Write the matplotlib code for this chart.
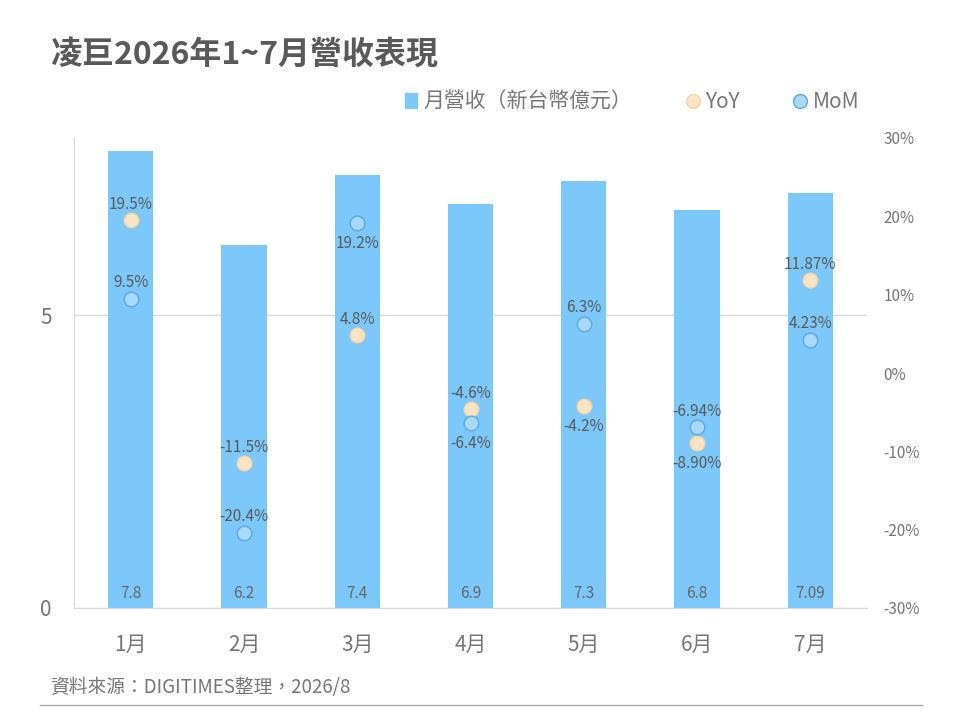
import matplotlib
matplotlib.use('Agg')
import matplotlib.pyplot as plt
from matplotlib.lines import Line2D
from matplotlib.patches import Patch
import numpy as np

plt.rcParams['font.family'] = ['Noto Sans CJK TC', 'DejaVu Sans']

months = ['1月', '2月', '3月', '4月', '5月', '6月', '7月']
revenue = [7.8, 6.2, 7.4, 6.9, 7.3, 6.8, 7.09]
revenue_labels = ['7.8', '6.2', '7.4', '6.9', '7.3', '6.8', '7.09']
yoy = [19.5, -11.5, 4.8, -4.6, -4.2, -8.90, 11.87]
yoy_labels = ['19.5%', '-11.5%', '4.8%', '-4.6%', '-4.2%', '-8.90%', '11.87%']
mom = [9.5, -20.4, 19.2, -6.4, 6.3, -6.94, 4.23]
mom_labels = ['9.5%', '-20.4%', '19.2%', '-6.4%', '6.3%', '-6.94%', '4.23%']
# label above (1) or below (-1) the point
yoy_pos = [1, 1, 1, 1, -1, -1, 1]
mom_pos = [1, 1, -1, -1, 1, 1, 1]

bar_color = '#7CC8FA'
text_gray = '#595959'
tick_gray = '#767676'

fig = plt.figure(figsize=(9.6, 7.2), dpi=100)
ax = fig.add_axes([74/960, 1-608/720, (867-74)/960, (608-138)/720])
ax2 = ax.twinx()

x = np.arange(len(months))
bars = ax.bar(x, revenue, 0.4, color=bar_color, zorder=2)
ax.set_ylim(0, 8.03)
ax.set_xlim(-0.5, len(months)-0.5)
ax.set_yticks([0, 5])
ax.set_yticklabels(['0', '5'])
ax.yaxis.grid(True, color='#D9D9D9', linewidth=1, zorder=0)
ax.set_axisbelow(True)
for s in ['top', 'right']:
    ax.spines[s].set_visible(False)
ax.spines['left'].set_color('#D9D9D9')
ax.spines['bottom'].set_color('#D9D9D9')
ax.tick_params(axis='y', length=0, labelsize=15, colors=tick_gray, pad=16)
ax.set_xticks(x)
ax.set_xticklabels(months)
ax.tick_params(axis='x', length=0, labelsize=15, colors=tick_gray, pad=19)

for i, b in enumerate(bars):
    ax.text(b.get_x()+b.get_width()/2, 0.1, revenue_labels[i], ha='center',
            va='bottom', fontsize=11, color='#666666', zorder=3)

ax2.set_ylim(-30, 30)
ax2.set_yticks([30, 20, 10, 0, -10, -20, -30])
ax2.set_yticklabels([f'{v}%' for v in [30, 20, 10, 0, -10, -20, -30]])
ax2.tick_params(axis='y', length=0, labelsize=11, colors=tick_gray, pad=12)
for s in ax2.spines.values():
    s.set_visible(False)

ax2.scatter(x, yoy, s=110, color='#FCE3C2', edgecolors='#F3D5AA', linewidths=1, zorder=4)
ax2.scatter(x, mom, s=110, color='#A9D8F8', edgecolors='#5AA8E8', linewidths=1, zorder=4)

for i in range(len(months)):
    for vals, labs, pos in [(yoy, yoy_labels, yoy_pos), (mom, mom_labels, mom_pos)]:
        dy = 11.5 if pos[i] > 0 else -15
        ax2.annotate(labs[i], (x[i], vals[i]), xytext=(0, dy),
                     textcoords='offset points', ha='center', va='center',
                     fontsize=11, color=text_gray, zorder=5)

handles = [Patch(color=bar_color),
           Line2D([], [], marker='o', linestyle='', markersize=10,
                  markerfacecolor='#FCE3C2', markeredgecolor='#F3D5AA'),
           Line2D([], [], marker='o', linestyle='', markersize=10,
                  markerfacecolor='#A9D8F8', markeredgecolor='#5AA8E8')]
fig.legend(handles, ['月營收（新台幣億元）', 'YoY', 'MoM'], loc='center',
           bbox_to_anchor=(632/960, 1-102/720), ncol=3, frameon=False,
           fontsize=15, labelcolor=tick_gray, handlelength=0.6, handletextpad=0.3,
           columnspacing=2.6)

fig.text(50/960, 1-55/720, '凌巨2026年1~7月營收表現', fontsize=23, fontweight='bold',
         color=text_gray, ha='left', va='center')
fig.text(50/960, 1-687/720, '資料來源：DIGITIMES整理，2026/8', fontsize=13.5,
         color=tick_gray, ha='left', va='center')
fig.add_artist(Line2D([40/960, 922/960], [1-705/720, 1-705/720], color='#A6A6A6', linewidth=1))

fig.savefig('out.png', dpi=100, facecolor='white')
